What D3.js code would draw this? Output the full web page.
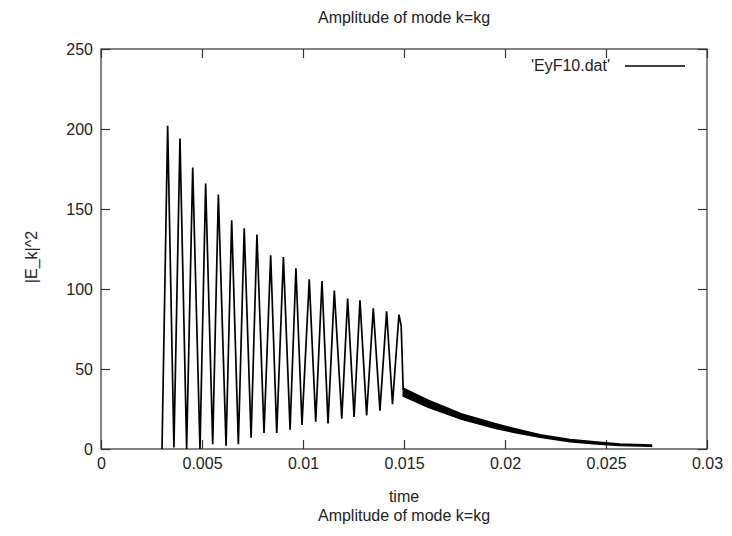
<!DOCTYPE html>
<html>
<head>
<meta charset="utf-8">
<script src="https://cdn.jsdelivr.net/npm/d3@7"></script>
<style>
  body { margin: 0; background: #fff; }
  text { font-family: "Liberation Sans", Arial, sans-serif; fill: #222; }
</style>
</head>
<body>
<div id="chart"></div>
<script>
// oscillating part: onset, then peak / trough pairs
var oscTime = [0.00302, 0.00330, 0.00361, 0.00391, 0.00424, 0.00454, 0.00490,
  0.00518, 0.00553, 0.00581, 0.00619, 0.00647, 0.00680, 0.00709, 0.00743,
  0.00772, 0.00807, 0.00840, 0.00870, 0.00903, 0.00936, 0.00965, 0.00995,
  0.01031, 0.01063, 0.01094, 0.01124, 0.01155, 0.01192, 0.01221, 0.01253,
  0.01282, 0.01315, 0.01348, 0.01381, 0.01414, 0.01443, 0.01475, 0.01486, 0.01496];
var oscValue = [0, 202, 1, 194, 0, 176, 0, 166, 3, 159, 2, 143, 3, 138, 7,
  134, 10, 121, 10, 120, 12, 113, 15, 106, 17, 105, 16, 99, 19, 94, 20,
  93, 21, 88, 24, 86, 28, 84, 77, 37];

// decaying tail, upper and lower edge of the noisy band
var tailTime = [0.01496, 0.01620, 0.01786, 0.01950, 0.02040, 0.02173,
  0.02322, 0.02470, 0.02569, 0.02726];
var tailHigh = [38, 30.5, 22, 16, 13, 9, 6, 4.2, 3.2, 2.5];
var tailLow = [33, 26, 18.5, 13, 10.5, 7.3, 4.5, 3, 2.1, 1.7];

var xTicks = [0, 0.005, 0.01, 0.015, 0.02, 0.025, 0.03];
var yTicks = [0, 50, 100, 150, 200, 250];

var chartTitle = "Amplitude of mode k=kg";
var xLabel = "time";
var yLabel = "|E_k|^2";
var seriesName = "'EyF10.dat'";

var width = 732, height = 536;
var margin = {top: 49, right: 25, bottom: 87, left: 101};
var fontSize = 16;

var svg = d3.select("#chart").append("svg")
    .attr("width", width)
    .attr("height", height);

var x = d3.scaleLinear().domain([0, 0.03]).range([margin.left, width - margin.right]);
var y = d3.scaleLinear().domain([0, 250]).range([height - margin.bottom, margin.top]);

var fmt = function(d) { return String(d); };

// axes, ticks pointing inwards on every side
svg.append("g")
    .attr("transform", "translate(0," + y(0) + ")")
    .call(d3.axisBottom(x).tickValues(xTicks).tickFormat(fmt)
      .tickSizeInner(-9).tickSizeOuter(0).tickPadding(9));
svg.append("g")
    .attr("transform", "translate(0," + y(250) + ")")
    .call(d3.axisTop(x).tickValues(xTicks).tickFormat("")
      .tickSizeInner(-9).tickSizeOuter(0));
svg.append("g")
    .attr("transform", "translate(" + x(0) + ",0)")
    .call(d3.axisLeft(y).tickValues(yTicks).tickFormat(fmt)
      .tickSizeInner(-9).tickSizeOuter(0).tickPadding(8));
svg.append("g")
    .attr("transform", "translate(" + x(0.03) + ",0)")
    .call(d3.axisRight(y).tickValues(yTicks).tickFormat("")
      .tickSizeInner(-9).tickSizeOuter(0));

svg.selectAll(".domain").remove();
svg.selectAll(".tick line").attr("stroke", "#333").attr("stroke-width", 1.2);
svg.selectAll(".tick text").attr("font-size", fontSize).attr("fill", "#222");

svg.append("rect")
    .attr("x", x(0)).attr("y", y(250))
    .attr("width", x(0.03) - x(0)).attr("height", y(0) - y(250))
    .attr("fill", "none").attr("stroke", "#333").attr("stroke-width", 1.2);

// the series
var osc = oscTime.map(function(t, i) { return [t, oscValue[i]]; });
var line = d3.line()
    .x(function(d) { return x(d[0]); })
    .y(function(d) { return y(d[1]); });

svg.append("path")
    .datum(osc)
    .attr("d", line)
    .attr("fill", "none")
    .attr("stroke", "#000")
    .attr("stroke-width", 1.7);

var tail = tailTime.map(function(t, i) { return {t: t, hi: tailHigh[i], lo: tailLow[i]}; });
var area = d3.area()
    .x(function(d) { return x(d.t); })
    .y0(function(d) { return y(d.lo); })
    .y1(function(d) { return y(d.hi); });

svg.append("path")
    .datum(tail)
    .attr("d", area)
    .attr("fill", "#000")
    .attr("stroke", "#000")
    .attr("stroke-width", 1.4)
    .attr("stroke-linejoin", "round");

// legend
svg.append("text")
    .attr("x", 610).attr("y", 71)
    .attr("text-anchor", "end")
    .attr("font-size", fontSize)
    .text(seriesName);
svg.append("line")
    .attr("x1", 625).attr("x2", 685)
    .attr("y1", 66).attr("y2", 66)
    .attr("stroke", "#000").attr("stroke-width", 1.5);

// titles
svg.append("text")
    .attr("x", (x(0) + x(0.03)) / 2).attr("y", 23)
    .attr("text-anchor", "middle")
    .attr("font-size", fontSize)
    .text(chartTitle);
svg.append("text")
    .attr("x", (x(0) + x(0.03)) / 2).attr("y", 502)
    .attr("text-anchor", "middle")
    .attr("font-size", fontSize)
    .text(xLabel);
svg.append("text")
    .attr("x", (x(0) + x(0.03)) / 2).attr("y", 521)
    .attr("text-anchor", "middle")
    .attr("font-size", fontSize)
    .text(chartTitle);
svg.append("text")
    .attr("transform", "translate(37," + ((y(0) + y(250)) / 2 + 8) + ") rotate(-90)")
    .attr("text-anchor", "middle")
    .attr("font-size", fontSize)
    .text(yLabel);
</script>
</body>
</html>
